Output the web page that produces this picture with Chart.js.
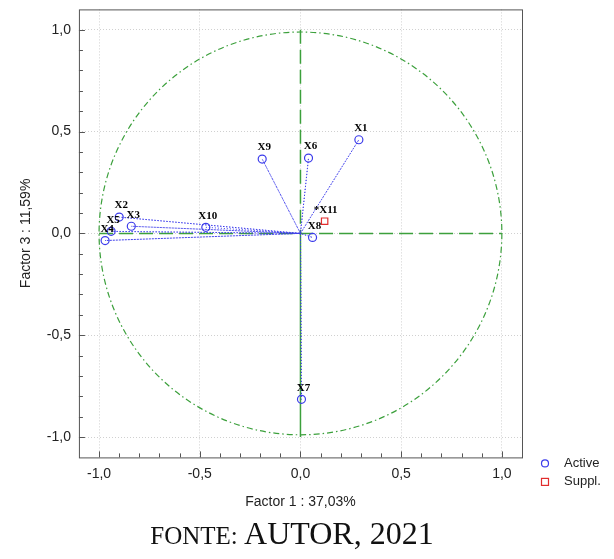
<!DOCTYPE html>
<html>
<head>
<meta charset="utf-8">
<script src="https://cdn.jsdelivr.net/npm/chart.js@4.4.0/dist/chart.umd.min.js"></script>
<style>
  body { margin: 0; background: #fff; overflow: hidden; }
  #wrap { position: relative; top: -7px; width: 614px; height: 527px; }
  #fonte { position: absolute; top: 514px; left: 0; width: 584px; text-align: center;
           font-family: "Liberation Serif", serif; font-size: 32px; color: #111; line-height: 38px; }
  #fonte .sc { font-size: 25px; }
</style>
</head>
<body>
<div id="wrap"><canvas id="pcaChart"></canvas></div>
<div id="fonte"><span class="sc">FONTE:</span> AUTOR, 2021</div>
<script>
// variáveis ativas
const activeLabels = ['X1', 'X2', 'X3', 'X4', 'X5', 'X6', 'X7', 'X8', 'X9', 'X10'];
const factor1 = [0.29, -0.90, -0.84, -0.97, -0.94, 0.04, 0.005, 0.06, -0.19, -0.47];
const factor3 = [0.46, 0.08, 0.035, -0.035, 0.01, 0.37, -0.815, -0.02, 0.365, 0.03];
// variável suplementar
const supplLabels = ['X11'];
const supplF1 = [0.12];
const supplF3 = [0.06];
const tickValues = [-1.0, -0.5, 0.0, 0.5, 1.0];

const blue = 'rgb(60, 60, 235)';
const red = 'rgb(225, 45, 45)';
const green = 'rgb(60, 160, 60)';

const vectors = [];
activeLabels.forEach((l, i) => {
  vectors.push({ x: 0, y: 0 });
  vectors.push({ x: factor1[i], y: factor3[i] });
});

const fmt = v => v.toFixed(1).replace('.', ',').replace('-0,0', '0,0');

const overlay = {
  id: 'overlay',
  beforeDatasetsDraw(chart) {
    const ctx = chart.ctx, xs = chart.scales.x, ys = chart.scales.y;
    const cx = xs.getPixelForValue(0), cy = ys.getPixelForValue(0);
    const r = xs.getPixelForValue(1) - cx;
    ctx.save();
    ctx.strokeStyle = green;
    ctx.lineWidth = 1.2;
    ctx.setLineDash([6, 3, 1.5, 3]);
    ctx.beginPath();
    ctx.arc(cx, cy, r, 0, Math.PI * 2);
    ctx.stroke();
    ctx.lineWidth = 1.5;
    ctx.setLineDash([14, 6]);
    ctx.beginPath();
    ctx.moveTo(xs.getPixelForValue(-1), cy); ctx.lineTo(xs.getPixelForValue(1), cy);
    ctx.moveTo(cx, ys.getPixelForValue(1)); ctx.lineTo(cx, cy);
    ctx.stroke();
    ctx.setLineDash([]);
    ctx.beginPath();
    ctx.moveTo(cx, cy); ctx.lineTo(cx, ys.getPixelForValue(-1));
    ctx.stroke();
    ctx.restore();
  },
  afterDatasetsDraw(chart) {
    const ctx = chart.ctx, xs = chart.scales.x, ys = chart.scales.y;
    ctx.save();
    ctx.font = 'bold 11px "Liberation Serif"';
    ctx.fillStyle = '#000';
    ctx.textAlign = 'center';
    ctx.textBaseline = 'bottom';
    activeLabels.forEach((l, i) => {
      ctx.fillText(l, xs.getPixelForValue(factor1[i]) + 2, ys.getPixelForValue(factor3[i]) - 6);
    });
    supplLabels.forEach((l, i) => {
      ctx.fillText('*' + l, xs.getPixelForValue(supplF1[i]) + 1, ys.getPixelForValue(supplF3[i]) - 6);
    });
    ctx.restore();
  },
  afterDraw(chart) {
    const ctx = chart.ctx, a = chart.chartArea, xs = chart.scales.x, ys = chart.scales.y;
    ctx.save();
    ctx.strokeStyle = '#555';
    ctx.lineWidth = 1;
    ctx.strokeRect(a.left + 0.5, a.top + 0.5, a.right - a.left, a.bottom - a.top);
    ctx.beginPath();
    for (let i = -10; i <= 10; i++) {
      const v = i / 10;
      const len = i % 5 === 0 ? 6 : 4;
      const px = Math.round(xs.getPixelForValue(v)) + 0.5;
      ctx.moveTo(px, a.bottom); ctx.lineTo(px, a.bottom - len);
      const py = Math.round(ys.getPixelForValue(v)) + 0.5;
      ctx.moveTo(a.left, py); ctx.lineTo(a.left + len, py);
    }
    ctx.stroke();
    // legenda
    const lx = a.right + 23, ly = a.bottom + 6;
    ctx.lineWidth = 1.2;
    ctx.strokeStyle = blue;
    ctx.beginPath(); ctx.arc(lx, ly, 3.5, 0, Math.PI * 2); ctx.stroke();
    ctx.strokeStyle = red;
    ctx.strokeRect(lx - 3.5, ly + 15, 7, 7);
    ctx.fillStyle = '#222';
    ctx.font = '13px "Liberation Sans"';
    ctx.textBaseline = 'middle';
    ctx.fillText('Active', lx + 19, ly);
    ctx.fillText('Suppl.', lx + 19, ly + 18);
    ctx.restore();
  }
};

const axisOpts = (title) => ({
  type: 'linear',
  min: -1.1,
  max: 1.1,
  afterBuildTicks: scale => { scale.ticks = tickValues.map(v => ({ value: v })); },
  ticks: {
    callback: v => fmt(v),
    color: '#222',
    font: { family: 'Liberation Sans', size: 14 },
    padding: 8
  },
  grid: { color: '#d0d0d0', drawTicks: false, lineWidth: 1 },
  border: { display: false, dash: [1, 2] },
  title: { display: true, text: title, color: '#222', font: { family: 'Liberation Sans', size: 14 } }
});

const xAxis = axisOpts('Factor 1 : 37,03%');
const yAxis = axisOpts('Factor 3 : 11,59%');

new Chart(document.getElementById('pcaChart'), {
  type: 'scatter',
  data: {
    datasets: [
      {
        label: 'vectors',
        data: vectors,
        showLine: true,
        borderColor: blue,
        borderWidth: 1,
        borderDash: [1, 2],
        pointRadius: 0,
        pointHoverRadius: 0
      },
      {
        label: 'Active',
        data: activeLabels.map((l, i) => ({ x: factor1[i], y: factor3[i] })),
        pointStyle: 'circle',
        pointRadius: 4,
        borderColor: blue,
        borderWidth: 1.2,
        backgroundColor: 'rgba(0,0,0,0)'
      },
      {
        label: 'Suppl.',
        data: supplLabels.map((l, i) => ({ x: supplF1[i], y: supplF3[i] })),
        pointStyle: 'rect',
        pointRadius: 4.5,
        borderColor: red,
        borderWidth: 1.2,
        backgroundColor: 'rgba(0,0,0,0)'
      }
    ]
  },
  options: {
    responsive: true,
    maintainAspectRatio: false,
    animation: false,
    layout: { padding: { top: 5, right: 92, bottom: 5, left: 14 } },
    plugins: { legend: { display: false }, tooltip: { enabled: false } },
    scales: {
      x: xAxis,
      y: yAxis
    }
  },
  plugins: [overlay]
});
</script>
</body>
</html>
